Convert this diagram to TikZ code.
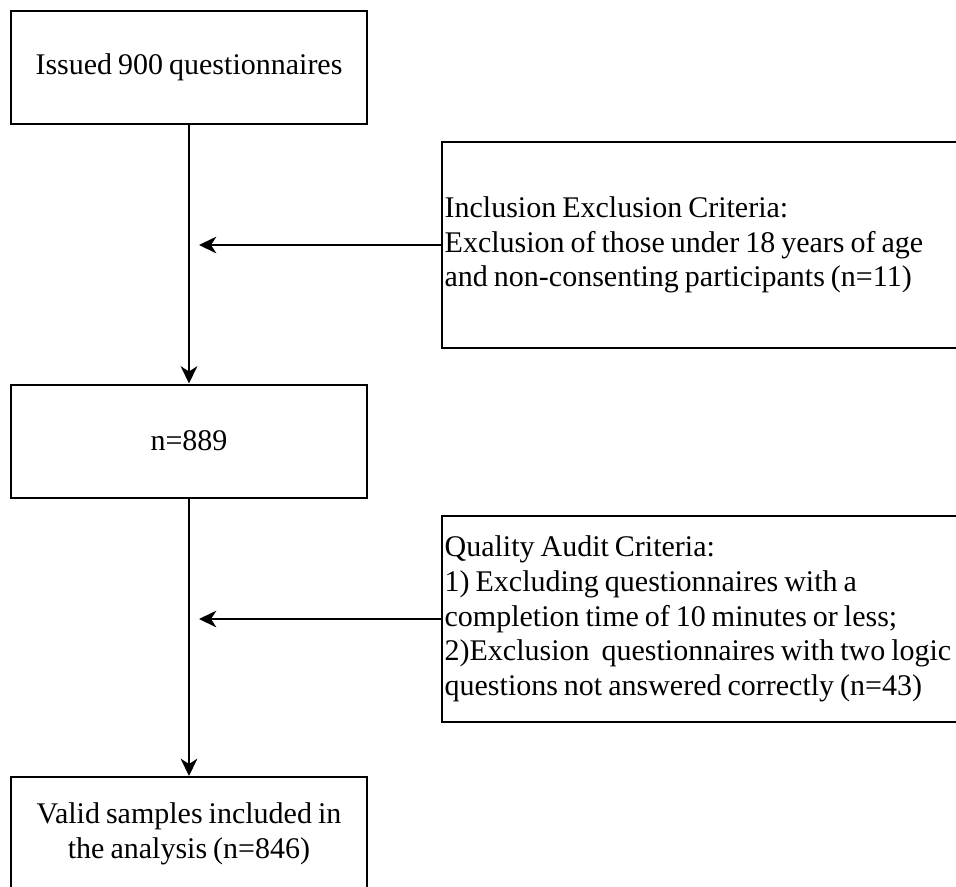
\documentclass[tikz,border=0pt]{standalone}
\usepackage{fontspec}
\setmainfont{Liberation Serif}[WordSpace=0.8]
\usetikzlibrary{positioning}
\usetikzlibrary{arrows.meta}

\begin{document}
\begin{tikzpicture}[x=0.75pt, y=-0.75pt, ->, >={Stealth[length=13pt, width=12.5pt, inset=4pt]}, line width=1.5pt, font=\fontsize{22.5pt}{26pt}\selectfont]
    \tikzstyle{block}=[draw=black, rectangle, fill=none, minimum width=267pt, minimum height=84.75pt, align=center, inner sep=2pt]
    \tikzstyle{crit}=[draw=black, rectangle, fill=none, text width=400pt, minimum height=154.5pt, align=left, inner xsep=2pt, anchor=west, execute at begin node={\spaceskip=0.2em\relax}]

    \clip (0,0) rectangle (956,886);

    \node[block] (issued) at (189,67.5) {Issued 900 questionnaires};
    \node[block] (n889) at (189,441) {n=889};
    \node[block] (valid) at (189,833.5) {Valid samples included in\\the analysis (n=846)};

    \node[crit] (incl) at (441,245) {Inclusion Exclusion Criteria:\\Exclusion of those under 18 years of age\\and non-consenting participants (n=11)};
    \node[crit] (audit) at (441,619) {Quality Audit Criteria:\\1) Excluding questionnaires with a\\completion time of 10 minutes or less;\\2)Exclusion~ questionnaires with two logic\\questions not answered correctly (n=43)};

    \coordinate (in1) at (199,245);
    \coordinate (in2) at (199,619);

    \path (issued) edge (n889);
    \path (n889) edge (valid);
    \path (incl) edge (in1);
    \path (audit) edge (in2);
\end{tikzpicture}
\end{document}
